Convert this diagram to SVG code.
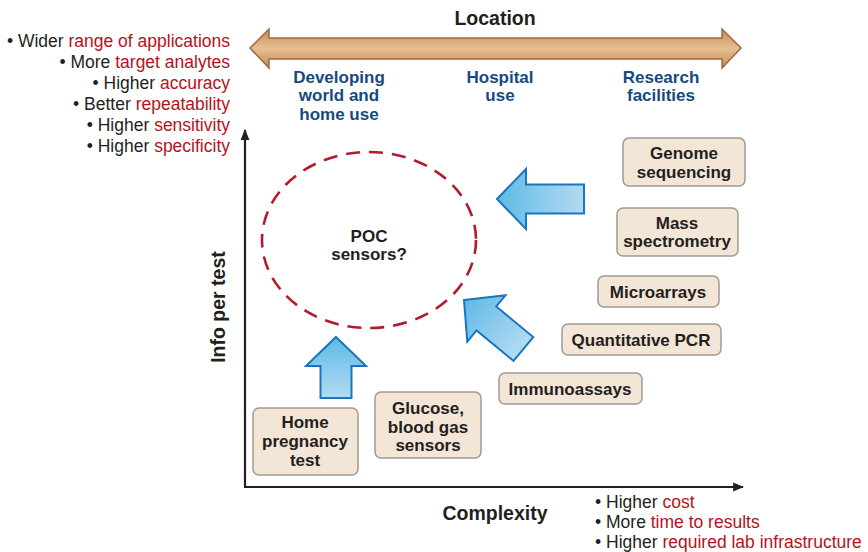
<svg xmlns="http://www.w3.org/2000/svg" width="868" height="552" viewBox="0 0 868 552">
<style>
text{font-family:"Liberation Sans",Arial,sans-serif;}
.b{font-weight:bold;fill:#231f20;font-size:17px;text-anchor:middle;}
.t{font-weight:bold;fill:#231f20;font-size:19.5px;text-anchor:middle;}
.loc{font-weight:bold;fill:#174a7c;font-size:17px;text-anchor:middle;}
.l{font-size:17.5px;fill:#231f20;}
.r{fill:#b5121b;}
.box{fill:#f3e6d6;stroke:#a09a94;stroke-width:1.5;}
.ba{fill:url(#blue);stroke:#1a75bc;stroke-width:2;stroke-linejoin:miter;}
.ax{stroke:#231f20;stroke-width:2.2;fill:none;}
</style>
<defs>
<linearGradient id="blue" x1="0" y1="0" x2="0" y2="1">
<stop offset="0" stop-color="#5fb9e6"/>
<stop offset="1" stop-color="#b3dbf2"/>
</linearGradient>
<linearGradient id="tan" x1="0" y1="0" x2="0" y2="1">
<stop offset="0" stop-color="#c08a58"/>
<stop offset="0.5" stop-color="#e8bf90"/>
<stop offset="1" stop-color="#c08a58"/>
</linearGradient>
<marker id="ah" viewBox="0 0 10 10" refX="9" refY="5" markerWidth="5" markerHeight="5" orient="auto" markerUnits="strokeWidth">
<path d="M0,1 L10,5 L0,9 z" fill="#231f20"/>
</marker>
</defs>

<g id="location-axis">
<text class="t" x="495" y="25">Location</text>
<polygon points="250,48 269,29 269,38 722,38 722,29 741,48 722,68 722,59 269,59 269,68" fill="url(#tan)" stroke="#9b6a43" stroke-width="1.5"/>
<text class="loc"><tspan x="339" y="83">Developing</tspan><tspan x="339" y="101">world and</tspan><tspan x="339" y="120">home use</tspan></text>
<text class="loc"><tspan x="500" y="83">Hospital</tspan><tspan x="500" y="101">use</tspan></text>
<text class="loc"><tspan x="661" y="83">Research</tspan><tspan x="661" y="101">facilities</tspan></text>
</g>

<g id="left-list" class="l" text-anchor="end">
<text x="230" y="47">• Wider <tspan class="r">range of applications</tspan></text>
<text x="230" y="68">• More <tspan class="r">target analytes</tspan></text>
<text x="230" y="89">• Higher <tspan class="r">accuracy</tspan></text>
<text x="230" y="110">• Better <tspan class="r">repeatability</tspan></text>
<text x="230" y="131">• Higher <tspan class="r">sensitivity</tspan></text>
<text x="230" y="152">• Higher <tspan class="r">specificity</tspan></text>
</g>

<g id="axes">
<path class="ax" d="M245,487 V130" marker-end="url(#ah)"/>
<path class="ax" d="M244,487 H743" marker-end="url(#ah)"/>
<text class="t" transform="translate(225,307) rotate(-90)">Info per test</text>
<text class="t" x="495" y="520">Complexity</text>
</g>

<g id="bottom-list" class="l">
<text x="595" y="508">• Higher <tspan class="r">cost</tspan></text>
<text x="595" y="528">• More <tspan class="r">time to results</tspan></text>
<text x="595" y="548">• Higher <tspan class="r">required lab infrastructure</tspan></text>
</g>

<g id="poc">
<ellipse cx="369" cy="240" rx="107" ry="88" fill="none" stroke="#b01c2e" stroke-width="2.6" stroke-dasharray="14 9"/>
<text class="b"><tspan x="369" y="242">POC</tspan><tspan x="369" y="260">sensors?</tspan></text>
</g>

<g id="connectors">
<polygon class="ba" transform="translate(497,199) rotate(-90)" points="0,0 30,29 14.5,29 14.5,87 -14.5,87 -14.5,29 -30,29"/>
<polygon class="ba" transform="translate(464,300) rotate(-50.5)" points="0,0 30,29 15.5,29 15.5,77 -15.5,77 -15.5,29 -30,29"/>
<polygon class="ba" transform="translate(336,337)" points="0,0 30,29 15.5,29 15.5,61 -15.5,61 -15.5,29 -30,29"/>
</g>

<g id="genome">
<rect class="box" x="623" y="138" width="122" height="48" rx="6"/>
<text class="b"><tspan x="684" y="159">Genome</tspan><tspan x="684" y="178">sequencing</tspan></text>
</g>
<g id="mass">
<rect class="box" x="617" y="208" width="121" height="48" rx="6"/>
<text class="b"><tspan x="677" y="229">Mass</tspan><tspan x="677" y="247">spectrometry</tspan></text>
</g>
<g id="microarrays">
<rect class="box" x="598" y="276" width="121" height="31" rx="6"/>
<text class="b" x="658" y="298">Microarrays</text>
</g>
<g id="qpcr">
<rect class="box" x="562" y="324" width="159" height="31" rx="6"/>
<text class="b" x="641" y="346">Quantitative PCR</text>
</g>
<g id="immuno">
<rect class="box" x="499" y="373" width="143" height="31" rx="6"/>
<text class="b" x="570" y="395">Immunoassays</text>
</g>
<g id="pregnancy">
<rect class="box" x="253" y="408" width="105" height="67" rx="6"/>
<text class="b"><tspan x="305" y="428">Home</tspan><tspan x="305" y="447">pregnancy</tspan><tspan x="305" y="466">test</tspan></text>
</g>
<g id="glucose">
<rect class="box" x="375" y="392" width="106" height="66" rx="6"/>
<text class="b"><tspan x="428" y="414">Glucose,</tspan><tspan x="428" y="433">blood gas</tspan><tspan x="428" y="451">sensors</tspan></text>
</g>
</svg>
